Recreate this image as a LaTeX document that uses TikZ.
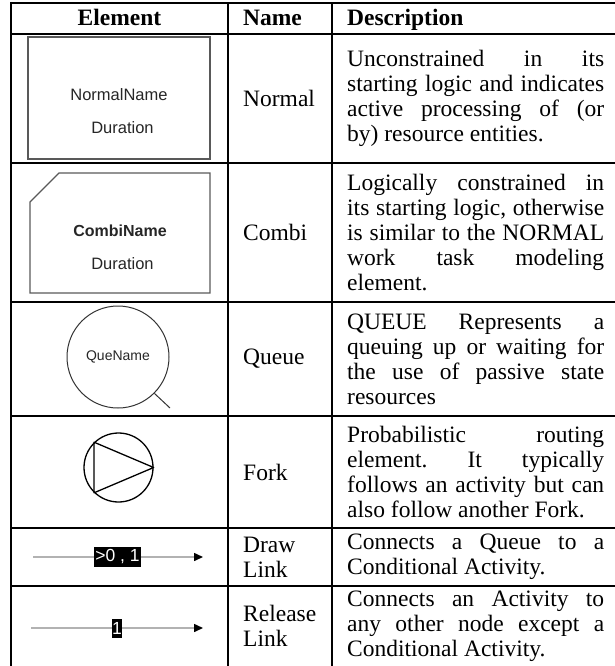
\documentclass[tikz,border=0pt]{standalone}
\usepackage{fontspec}
\setmainfont{Liberation Serif}
\newfontfamily\arialfont{Liberation Sans}
\usetikzlibrary{arrows.meta}
\pretolerance=10000
\tolerance=10000
\hyphenpenalty=10000
\frenchspacing

\begin{document}
\begin{tikzpicture}[x=1pt, y=-1pt,
        rule/.style={line width=1.3pt},
        heading/.style={anchor=base, inner sep=0pt, font=\fontsize{23.5}{25}\selectfont\bfseries},
        namecell/.style={anchor=west, align=left, inner sep=0pt, font=\fontsize{23.5}{25}\selectfont},
        desccell/.style={anchor=west, text width=257pt, align=justify, inner sep=0pt, font=\fontsize{23.5}{25}\selectfont},
        shapetext/.style={inner sep=0pt, text=black!85, font=\arialfont\fontsize{16.5}{18}\selectfont},
        shapeline/.style={draw=black!65, line width=1.3pt},
        linkline/.style={draw=black!30, line width=1.5pt, -{Triangle[length=9pt, width=8pt, color=black]}},
        linklabel/.style={fill=black, text=white, inner xsep=1.5pt, inner ysep=0pt, minimum height=20pt, font=\arialfont\fontsize{17.5}{19}\selectfont}]
        \useasboundingbox (0,0) rectangle (615,666);

        \draw[line width=2pt] (11,3) -- (615,3);
        \foreach \y in {34,163,302,416,528,586} \draw[rule] (11,\y) -- (615,\y);
        \draw[line width=2pt] (11,2) -- (11,666);
        \foreach \x in {228,332} \draw[line width=1.5pt] (\x,3) -- (\x,666);

        \node[heading] (elementhead) at (119.5,26) {Element};
        \node[heading, anchor=base west] (namehead) at (243,26) {Name};
        \node[heading, anchor=base west] (deschead) at (347,26) {Description};

        \node[shapeline, minimum width=182pt, minimum height=122pt, inner sep=0pt] (normal) at (119,98) {};
        \node[shapetext] (normalname) at (119,95) {NormalName};
        \node[shapetext] (normaldur) at (122.5,128) {Duration};

        \draw[shapeline] (30,202) -- (59,173) -- (210,173) -- (210,293) -- (30,293) -- cycle;
        \node[shapetext, font=\arialfont\bfseries\fontsize{16}{18}\selectfont] (combiname) at (120,231) {CombiName};
        \node[shapetext] (combidur) at (122.5,264) {Duration};

        \node[circle, draw=black!80, line width=1pt, minimum size=102pt, inner sep=0pt,
            shapetext, font=\arialfont\fontsize{14}{16}\selectfont] (queue) at (118,357) {QueName};
        \coordinate (quetail) at (170,408);
        \draw[draw=black!80, line width=1pt] (queue.-45) -- (quetail);

        \node[circle, draw, line width=1.3pt, minimum size=69pt, inner sep=0pt] (fork) at (118.5,467.5) {};
        \draw[line width=1.3pt, line join=round] (fork.134) -- (fork.226) -- (fork.east) -- cycle;

        \coordinate (drawfrom) at (33,557);
        \coordinate (drawto) at (203,557);
        \draw[linkline] (drawfrom) -- (drawto);
        \node[linklabel] (drawlabel) at (117.5,557) {>0 , 1};

        \coordinate (releasefrom) at (31,628);
        \coordinate (releaseto) at (203,628);
        \draw[linkline] (releasefrom) -- (releaseto);
        \node[linklabel, inner xsep=0.5pt, minimum height=19pt] (releaselabel) at (117,628.5) {1};

        \node[namecell] (normalcell) at (243,98.5) {Normal};
        \node[namecell] (combicell) at (243,232.5) {Combi};
        \node[namecell] (queuecell) at (243,359) {Queue};
        \node[namecell] (forkcell) at (243,472) {Fork};
        \node[namecell] (drawcell) at (243,557) {Draw\\Link};
        \node[namecell] (releasecell) at (243,626) {Release\\Link};

        \node[desccell] (normaldesc) at (347,98.5) {Unconstrained in its\linebreak starting logic and indicates\linebreak active processing of (or\linebreak by) resource entities.};
        \node[desccell] (combidesc) at (347,232.5) {Logically constrained in\linebreak its starting logic, otherwise\linebreak is similar to the NORMAL\linebreak work task modeling\linebreak element.};
        \node[desccell] (queuedesc) at (347,359) {QUEUE Represents a\linebreak queuing up or waiting for\linebreak the use of passive state\linebreak resources};
        \node[desccell] (forkdesc) at (347,472) {Probabilistic routing\linebreak element. It typically\linebreak follows an activity but can\linebreak also follow another Fork.};
        \node[desccell] (drawdesc) at (347,557) {Connects a Queue to a\linebreak Conditional Activity.};
        \node[desccell] (releasedesc) at (347,626) {Connects an Activity to\linebreak any other node except a\linebreak Conditional Activity.};
    \end{tikzpicture}
\end{document}
